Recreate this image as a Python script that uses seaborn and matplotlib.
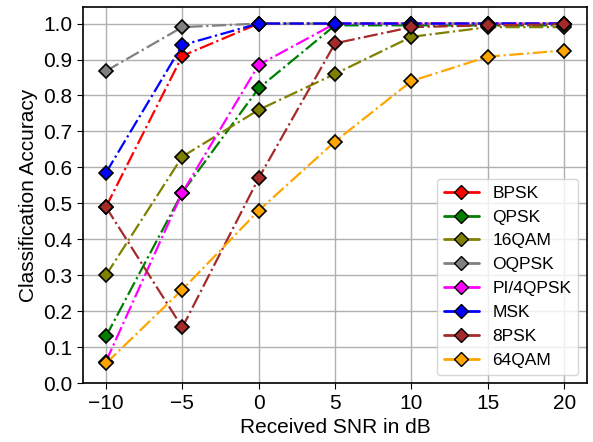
import pandas as pd
import matplotlib
matplotlib.use("Agg")
import matplotlib.pyplot as plt
import seaborn as sns
from matplotlib.lines import Line2D

snr = [-10, -5, 0, 5, 10, 15, 20]
bpsk = [0.49, 0.91, 1.0, 1.0, 1.0, 1.0, 1.0]
qpsk = [0.13, 0.53, 0.82, 0.995, 0.995, 0.995, 0.995]
qam16 = [0.30, 0.63, 0.76, 0.86, 0.963, 0.99, 0.99]
oqpsk = [0.868, 0.99, 1.0, 1.0, 1.0, 1.0, 1.0]
pi4qpsk = [0.06, 0.53, 0.885, 1.0, 1.0, 1.0, 1.0]
msk = [0.585, 0.94, 1.0, 1.0, 1.0, 1.0, 1.0]
psk8 = [0.49, 0.155, 0.57, 0.945, 0.99, 0.995, 0.998]
qam64 = [0.055, 0.26, 0.48, 0.672, 0.84, 0.908, 0.925]

names = ["BPSK", "QPSK", "16QAM", "OQPSK", "PI/4QPSK", "MSK", "8PSK", "64QAM"]
series = [bpsk, qpsk, qam16, oqpsk, pi4qpsk, msk, psk8, qam64]
colors = ["red", "green", "olive", "gray", "magenta", "blue", "brown", "orange"]

sns.set_style("whitegrid")
plt.rcParams["font.family"] = ["Liberation Sans", "DejaVu Sans"]
plt.rcParams.update({"text.color": "black", "axes.labelcolor": "black",
                     "xtick.color": "black", "ytick.color": "black"})

fig, ax = plt.subplots(figsize=(5.93, 4.42), dpi=100)
handles = []
for name, vals, c in zip(names, series, colors):
    df = pd.DataFrame({"snr": snr, "acc": vals})
    sns.lineplot(data=df, x="snr", y="acc", color=c, linestyle="-.", linewidth=1.6,
                 marker="D", markersize=7, markeredgecolor="black", markeredgewidth=1.2, ax=ax)
    handles.append(Line2D([], [], color=c, linewidth=2, marker="D", markersize=7,
                          markerfacecolor=c, markeredgecolor="black", markeredgewidth=1.0, label=name))

ax.set_xlim(-11.5, 21.5)
ax.set_ylim(0, 1.047)
ax.set_yticks([i / 10 for i in range(11)])
ax.set_xticks([-10, -5, 0, 5, 10, 15, 20])
ax.tick_params(labelsize=15, length=4, color="black", left=True, bottom=True)
ax.set_xlabel("Received SNR in dB", fontsize=15)
ax.set_ylabel("Classification Accuracy", fontsize=15)
ax.grid(True, color="#b0b0b0", linewidth=1)
for s in ax.spines.values():
    s.set_color("black")
    s.set_linewidth(1.2)
ax.legend(handles=handles, loc="lower right", fontsize=12.5, framealpha=0.8,
          edgecolor="#cccccc", labelspacing=0.5)

plt.subplots_adjust(left=0.14, right=0.99, top=0.985, bottom=0.133)
plt.savefig("out.png", dpi=100)
